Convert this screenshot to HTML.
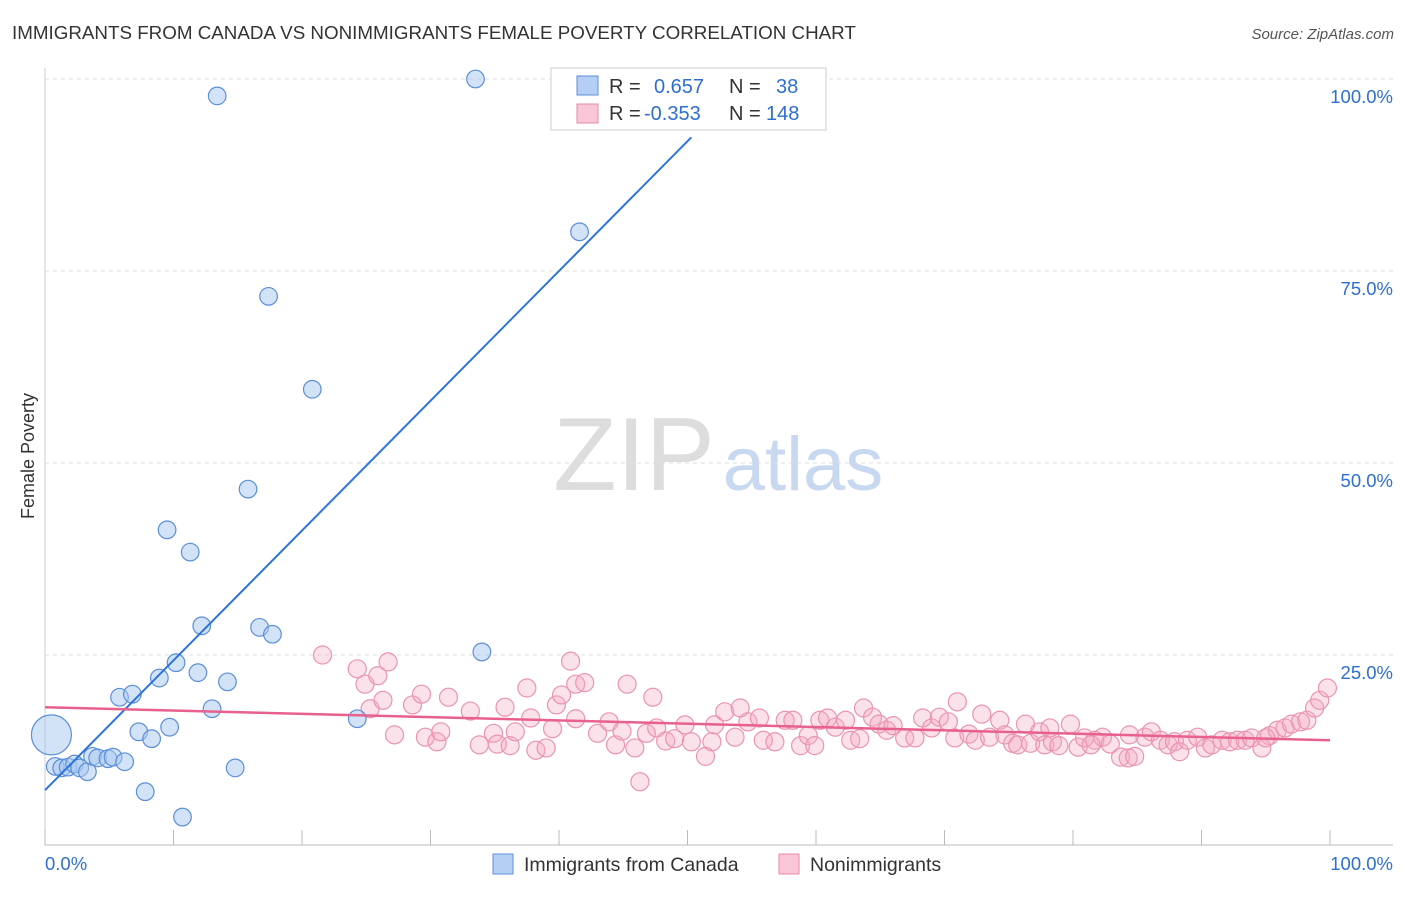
<!DOCTYPE html>
<html><head><meta charset="utf-8"><style>
body{margin:0;background:#fff;font-family:"Liberation Sans",sans-serif}
svg text{font-family:"Liberation Sans",sans-serif}
</style></head><body>
<svg id="chart" width="1406" height="892" xmlns="http://www.w3.org/2000/svg">
<text x="12" y="39" font-size="18.8" fill="#333">IMMIGRANTS FROM CANADA VS NONIMMIGRANTS FEMALE POVERTY CORRELATION CHART</text>
<text x="1394" y="39" font-size="15" fill="#555" font-style="italic" text-anchor="end">Source: ZipAtlas.com</text>
<text x="34" y="456" font-size="18" fill="#333" text-anchor="middle" transform="rotate(-90 34 456)">Female Poverty</text>
<g><text x="634" y="490" font-size="104" fill="#ddd" font-family="Liberation Serif" text-anchor="middle">ZIP</text><text x="803" y="490" font-size="76" fill="#c8d8f0" text-anchor="middle">atlas</text></g>
<g id="grid"></g><g id="axes"></g><g id="pink"></g><g id="blue"></g><g id="lines"></g>
<g>
<rect x="551" y="68" width="275" height="62" fill="#fff" stroke="#ccc"/>
<rect x="577" y="76" width="21" height="19" fill="#b4cff3" stroke="#5b8fd8"/>
<rect x="577" y="104" width="21" height="19" fill="#f8c6d6" stroke="#e88aa8"/>
<text x="609" y="93" font-size="20" fill="#333">R =</text><text x="654" y="93" font-size="20" fill="#2e6fd0">0.657</text>
<text x="729" y="93" font-size="20" fill="#333">N =</text><text x="776" y="93" font-size="20" fill="#2e6fd0">38</text>
<text x="609" y="120" font-size="20" fill="#333">R =</text><text x="644" y="120" font-size="20" fill="#2e6fd0">-0.353</text>
<text x="729" y="120" font-size="20" fill="#333">N =</text><text x="766" y="120" font-size="20" fill="#2e6fd0">148</text>
</g>
<g>
<rect x="493" y="854" width="20" height="20" fill="#b4cff3" stroke="#5b8fd8"/>
<text x="524" y="871" font-size="19.5" fill="#333">Immigrants from Canada</text>
<rect x="779" y="854" width="20" height="20" fill="#f8c6d6" stroke="#e88aa8"/>
<text x="810" y="871" font-size="19.5" fill="#333">Nonimmigrants</text>
</g>
</svg>
<script>
const yTicks=[25,50,75,100];
const yTickLabels=["25.0%","50.0%","75.0%","100.0%"];
const xTicks=[0,10,20,30,40,50,60,70,80,90,100];
const blueX=[0.5,0.8,1.3,1.8,2.3,2.7,3.3,3.7,4.1,4.9,5.3,6.2,5.8,6.8,7.3,7.8,8.3,8.9,9.5,9.7,10.2,10.7,11.3,11.9,12.2,13.0,13.4,14.2,14.8,15.8,16.7,17.4,17.7,20.8,24.3,33.5,34.0,41.6];
const blueY=[14.6,10.5,10.3,10.4,10.8,10.3,9.8,11.8,11.6,11.5,11.7,11.1,19.5,19.9,15.0,7.2,14.1,22.0,41.3,15.6,24.0,3.9,38.4,22.7,28.8,18.0,97.8,21.5,10.3,46.6,28.6,71.7,27.7,59.6,16.7,100,25.4,80.1];
const pinkX=[21.6,24.3,24.9,25.9,26.7,25.3,26.3,27.2,28.6,29.3,29.6,30.5,30.8,31.4,33.1,33.8,34.9,35.2,35.8,36.2,36.6,37.5,37.8,38.2,39.0,39.5,39.8,40.2,40.9,41.3,42.0,41.3,43.0,44.4,43.9,44.9,45.3,45.9,46.3,46.8,47.3,47.6,48.3,49.0,49.8,50.3,51.4,51.9,52.1,52.9,53.7,54.1,54.7,55.6,55.9,56.8,57.6,58.2,58.8,59.4,59.9,60.3,60.9,61.5,62.3,62.7,63.4,63.7,64.4,64.9,65.5,66.0,66.9,67.7,68.3,69.0,69.6,70.3,70.8,71.0,71.9,72.4,72.9,73.5,74.3,74.7,75.3,75.7,76.3,76.7,77.4,77.8,78.4,78.9,79.8,80.4,80.9,81.7,82.3,82.9,83.7,84.3,84.8,85.6,86.1,86.8,87.4,87.9,88.3,88.9,89.7,90.3,90.8,91.6,92.2,92.8,93.4,93.9,94.7,95.3,95.9,96.5,97.0,97.7,98.2,98.8,99.2,99.8,95.0,84.4,81.4,78.2];
const pinkY=[25.0,23.2,21.2,22.3,24.1,18.0,19.1,14.6,18.5,19.9,14.3,13.7,15.0,19.5,17.7,13.3,14.8,13.4,18.2,13.2,15.0,20.7,16.8,12.6,12.9,15.4,18.5,19.8,24.2,21.2,21.4,16.7,14.8,13.3,16.3,15.1,21.2,12.9,8.5,14.8,19.5,15.5,13.8,14.1,15.9,13.7,11.8,13.7,15.9,17.6,14.3,18.1,16.3,16.8,13.9,13.7,16.5,16.5,13.2,14.5,13.2,16.5,16.8,15.6,16.5,13.9,14.1,18.1,16.9,16.0,15.2,15.8,14.2,14.2,16.8,15.5,16.9,16.3,14.2,18.9,14.7,13.9,17.3,14.3,16.5,14.6,13.5,13.3,16.0,13.5,15.0,13.3,13.7,13.2,16.0,13.0,14.2,13.9,14.3,13.4,11.7,11.6,11.8,14.3,15.0,13.9,13.3,13.7,12.4,13.9,14.3,12.9,13.3,13.9,13.7,13.9,13.9,14.2,12.9,14.5,15.2,15.5,16.0,16.3,16.5,18.1,19.1,20.7,14.2,14.6,13.3,15.5];
const blueFit=[7.4,1.69];
const pinkFit=[18.2,-0.043];
const X=v=>45+v*12.85, Y=v=>847-v*7.68;
const NS="http://www.w3.org/2000/svg";
function mk(p,t,a){const e=document.createElementNS(NS,t);for(const k in a)e.setAttribute(k,a[k]);document.getElementById(p).appendChild(e);return e;}
yTicks.forEach((t,i)=>{
 const l=mk('grid','line',{x1:45,x2:1393,y1:Y(t),y2:Y(t),stroke:'#ddd','stroke-dasharray':'4,4'});
 
 
 const tx=mk('grid','text',{x:1393,y:Y(t)+24,'font-size':18.5,fill:'#2e6fd0','text-anchor':'end'});tx.textContent=yTickLabels[i];
 
 
});
const ax=mk('axes','line',{x1:45,x2:1393,y1:845,y2:845,stroke:'#bbb'});


const ay=mk('axes','line',{x1:45,x2:45,y1:68,y2:845,stroke:'#ccc'});


xTicks.forEach(t=>{const l=mk('axes','line',{x1:X(t),x2:X(t),y1:830,y2:845,stroke:'#bbb'});
 
 });
const xl=mk('axes','text',{x:45,y:870,'font-size':18.5,fill:'#2e6fd0'});xl.textContent='0.0%';


const xr=mk('axes','text',{x:1393,y:870,'font-size':18.5,fill:'#2e6fd0','text-anchor':'end'});xr.textContent='100.0%';


pinkX.forEach((x,i)=>{const c=mk('pink','circle',{cx:X(x),cy:Y(pinkY[i]),r:9,fill:'rgba(244,170,195,0.35)',stroke:'#ea94b0','stroke-width':1.2});
 
 });
blueX.forEach((x,i)=>{const c=mk('blue','circle',{cx:X(x),cy:Y(blueY[i]),r:i==0?20:8.8,fill:'rgba(168,200,240,0.5)',stroke:'#5b8fd8','stroke-width':1.2});
 
 });
const bl=mk('lines','line',{x1:X(0),y1:Y(blueFit[0]),x2:X(50.3),y2:Y(blueFit[0]+blueFit[1]*50.3),stroke:'#2e74d8','stroke-width':2});


const pl=mk('lines','line',{x1:X(0),y1:Y(pinkFit[0]),x2:X(100),y2:Y(pinkFit[0]+pinkFit[1]*100),stroke:'#e8608e','stroke-width':2.5});


</script>
</body></html>
